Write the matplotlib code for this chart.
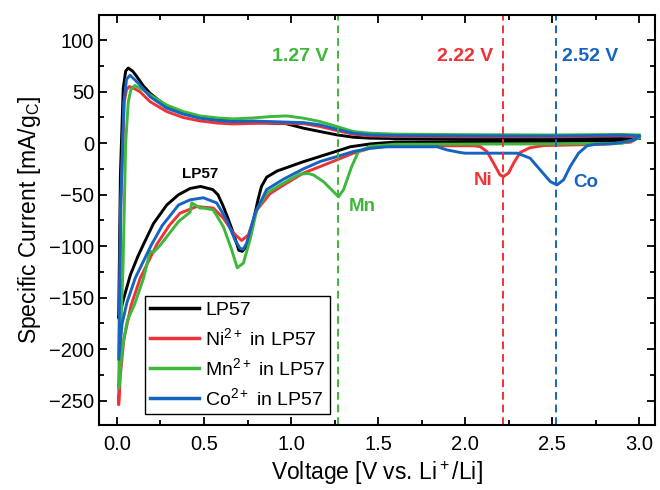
import numpy as np
import matplotlib
matplotlib.use('Agg')
import matplotlib.pyplot as plt
from matplotlib.ticker import MultipleLocator

plt.rcParams['font.family'] = ['Liberation Sans', 'DejaVu Sans']
plt.rcParams['mathtext.fontset'] = 'custom'
plt.rcParams['mathtext.rm'] = 'Liberation Sans'
plt.rcParams['mathtext.it'] = 'Liberation Sans:italic'
plt.rcParams['mathtext.bf'] = 'Liberation Sans:bold'

# cathodic sweep (3.0 V -> 0.01 V) and anodic sweep (0.01 V -> 3.0 V)
# LP57
lp57_v_down = [3.0, 2.9, 2.5, 2.0, 1.6, 1.454, 1.34, 1.22, 1.07, 0.92, 0.86, 0.83, 0.81, 0.784,
               0.765, 0.745, 0.72, 0.70, 0.67, 0.64, 0.61, 0.58, 0.55, 0.48, 0.42, 0.354, 0.286,
               0.21, 0.153, 0.12, 0.077, 0.04, 0.025, 0.01]
lp57_i_down = [5, 2.5, 1.8, 1.6, 1.2, -0.7, -3.5, -10, -18, -27, -33, -42, -55, -75,
               -90, -100, -105, -104, -88, -74, -61, -50, -45, -42, -44, -50, -60,
               -78, -98, -110, -128, -150, -160, -170]
lp57_v_up = [0.01, 0.02, 0.036, 0.05, 0.065, 0.09, 0.113, 0.15, 0.19, 0.286, 0.381, 0.477, 0.58,
             0.668, 0.78, 0.879, 0.97, 1.071, 1.167, 1.263, 1.358, 1.454, 1.6, 2.5, 2.9, 3.0]
lp57_i_up = [-170, -30, 53, 70, 73, 70, 65, 56, 48.5, 35.5, 29, 25, 22.5,
             21.5, 21, 19.5, 19, 14.6, 11.3, 8.1, 5.8, 4.9, 4.5, 4.5, 5, 5]

# Ni2+ in LP57
ni_v_down = [3.0, 2.95, 2.8, 2.45, 2.37, 2.316, 2.278, 2.249, 2.22, 2.2, 2.163, 2.125, 2.086, 2.05,
             1.8, 1.55, 1.454, 1.358, 1.263, 1.167, 1.071, 0.975, 0.879, 0.803, 0.755, 0.716,
             0.668, 0.611, 0.553, 0.458, 0.362, 0.3, 0.23, 0.134, 0.082, 0.04, 0.02, 0.01]
ni_i_down = [6, 1, -1, -2.3, -4.5, -9, -19.4, -29, -32.4, -30.8, -19.4, -8.1, -3.3, -2.5,
             -2.5, -3, -4.9, -9.7, -16.2, -22.7, -29, -38.8, -49, -65, -89, -94.5,
             -87, -72.8, -63, -61.5, -68, -80, -98, -131, -157, -190, -225, -254]
ni_v_up = [0.01, 0.022, 0.042, 0.055, 0.071, 0.1, 0.132, 0.19, 0.286, 0.381, 0.477, 0.58, 0.668,
           0.78, 0.879, 0.97, 1.071, 1.167, 1.263, 1.358, 1.454, 1.6, 2.0, 2.5, 2.9, 3.0]
ni_i_up = [-254, -60, 40, 52, 55, 53, 50, 40.4, 30.7, 24.9, 21.6, 19.5, 18.7,
           19.2, 19.4, 19.2, 19, 16.2, 12.3, 8.7, 7.1, 6.5, 6.2, 6.2, 7, 6]

# Mn2+ in LP57
mn_v_down = [3.0, 2.9, 2.5, 1.6, 1.454, 1.387, 1.348, 1.301, 1.272, 1.243, 1.186, 1.128, 1.1,
             1.05, 0.956, 0.86, 0.803, 0.764, 0.726, 0.691, 0.659, 0.611, 0.553, 0.50, 0.477,
             0.43, 0.42, 0.354, 0.249, 0.21, 0.19, 0.153, 0.1, 0.06, 0.03, 0.01]
mn_i_down = [5, 0, -0.7, -1, -3, -8.1, -22.7, -45.3, -52, -47, -37.3, -30.8, -29.5,
             -30, -38.8, -48.5, -64.8, -94, -116.5, -121, -103.6, -81, -64.8, -63, -63,
             -58, -67, -76, -99, -106, -105, -131, -157, -172, -200, -238]
mn_v_up = [0.01, 0.035, 0.05, 0.065, 0.08, 0.103, 0.151, 0.19, 0.286, 0.381, 0.477, 0.58, 0.668,
           0.78, 0.879, 0.975, 1.071, 1.167, 1.263, 1.358, 1.454, 1.6, 2.0, 2.5, 2.9, 3.0]
mn_i_up = [-238, -120, 0, 40, 52, 56, 51.7, 47, 37, 30.7, 26.5, 24.5, 23.6,
           24.5, 25.8, 26.5, 24.3, 21, 16.2, 11.3, 9.7, 8.8, 8.3, 8, 8.5, 8]

# Co2+ in LP57
co_v_down = [3.0, 2.97, 2.85, 2.75, 2.7, 2.651, 2.603, 2.565, 2.527, 2.489, 2.431, 2.373, 2.3,
             2.0, 1.97, 1.895, 1.84, 1.55, 1.454, 1.358, 1.263, 1.167, 1.07, 0.956, 0.86, 0.793,
             0.745, 0.725, 0.707, 0.678, 0.63, 0.573, 0.496, 0.42, 0.354, 0.26, 0.197, 0.105,
             0.057, 0.03, 0.01]
co_i_down = [7, 3, -0.5, -1, -2.5, -9.7, -22.7, -35.6, -40.5, -37.3, -26, -14.6, -9.7,
             -9.7, -9, -6.5, -3.5, -3.5, -4.9, -8.1, -13, -17.8, -25, -35, -45, -68,
             -97, -103, -102, -94, -74.5, -58, -53, -55, -60, -80, -99, -131,
             -155, -175, -210]
co_v_up = [0.01, 0.022, 0.04, 0.055, 0.075, 0.1, 0.132, 0.19, 0.286, 0.381, 0.477, 0.58, 0.668,
           0.78, 0.879, 0.97, 1.071, 1.167, 1.263, 1.358, 1.454, 1.6, 2.0, 2.5, 2.9, 3.0]
co_i_up = [-210, -60, 40, 62, 66, 62, 56.6, 45.2, 34, 28.2, 24.3, 22, 21,
           21.5, 21, 20.5, 20, 17.8, 13.6, 9.7, 8.1, 7.5, 7.2, 7, 7.8, 7]

labels = ['LP57', 'Ni$^{2+}$ in LP57', 'Mn$^{2+}$ in LP57', 'Co$^{2+}$ in LP57']
colors = ['black', '#EE3338', '#3DB83A', '#1565C0']
peak_v = [1.27, 2.22, 2.52]
peak_colors = ['#3DB83A', '#EE3338', '#1565C0']

fig = plt.figure(figsize=(6.6, 4.9), dpi=100)
ax = fig.add_axes([0.15, 0.133, 0.8424, 0.8364])

series = [(lp57_v_down, lp57_i_down, lp57_v_up, lp57_i_up),
          (ni_v_down, ni_i_down, ni_v_up, ni_i_up),
          (mn_v_down, mn_i_down, mn_v_up, mn_i_up),
          (co_v_down, co_i_down, co_v_up, co_i_up)]
for (vd, idn, vu, iu), lab, c in zip(series, labels, colors):
    v = np.concatenate([vd, vu])
    i = np.concatenate([idn, iu])
    ax.plot(v, i, color=c, lw=2.1, label=lab, solid_joinstyle='round')

for pv, pc in zip(peak_v, peak_colors):
    ax.axvline(pv, color=pc, lw=1.4, linestyle=(0, (4, 2.5)))

ax.text(1.215, 84, '1.27 V', color=peak_colors[0], fontsize=14, fontweight='bold', ha='right', va='center')
ax.text(2.16, 84, '2.22 V', color=peak_colors[1], fontsize=14, fontweight='bold', ha='right', va='center')
ax.text(2.555, 84, '2.52 V', color=peak_colors[2], fontsize=14, fontweight='bold', ha='left', va='center')
ax.text(0.48, -30, 'LP57', color='black', fontsize=11, fontweight='bold', ha='center', va='center')
ax.text(1.33, -61, 'Mn', color=peak_colors[0], fontsize=13.5, fontweight='bold', ha='left', va='center')
ax.text(2.155, -36, 'Ni', color=peak_colors[1], fontsize=13.5, fontweight='bold', ha='right', va='center')
ax.text(2.62, -38, 'Co', color=peak_colors[2], fontsize=13.5, fontweight='bold', ha='left', va='center')

ax.set_xlim(-0.103, 3.09)
ax.set_ylim(-273.5, 124.5)
ax.xaxis.set_major_locator(MultipleLocator(0.5))
ax.xaxis.set_minor_locator(MultipleLocator(0.25))
ax.yaxis.set_major_locator(MultipleLocator(50))
ax.yaxis.set_minor_locator(MultipleLocator(25))
ax.xaxis.set_major_formatter(matplotlib.ticker.FormatStrFormatter('%.1f'))
ax.tick_params(which='both', direction='in', top=True, right=True, width=1.3, labelsize=14.5)
ax.tick_params(which='major', length=6)
ax.tick_params(which='minor', length=3.5)
ax.tick_params(axis='x', pad=7)
for s in ax.spines.values():
    s.set_linewidth(1.5)

ax.set_xlabel('Voltage [V vs. Li$^+$/Li]', fontsize=16.5, labelpad=4)
ax.set_ylabel('Specific Current [mA/g$_\\mathrm{C}$]', fontsize=16.5, labelpad=4)

leg = ax.legend(loc='lower left', bbox_to_anchor=(0.083, 0.027), borderaxespad=0, fontsize=14,
                handlelength=2.5, handletextpad=0.35, labelspacing=0.42, borderpad=0.25,
                fancybox=False, framealpha=1, edgecolor='black')
leg.get_frame().set_linewidth(1.0)
for line in leg.get_lines():
    line.set_linewidth(2.5)

plt.savefig('out.png', dpi=100)
